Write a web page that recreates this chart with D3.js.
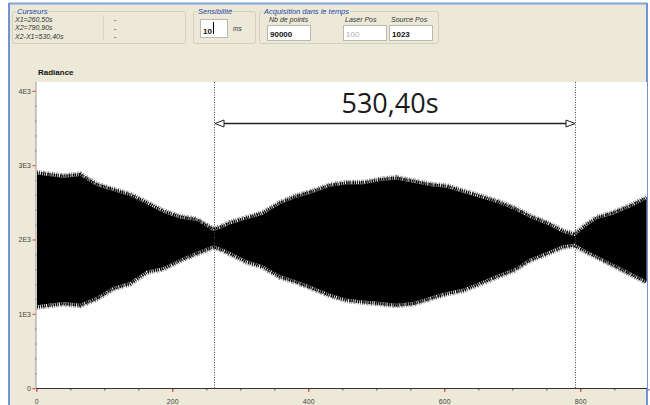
<!DOCTYPE html>
<html>
<head>
<meta charset="utf-8">
<script src="https://cdn.jsdelivr.net/npm/d3@7"></script>
<style>
    body { margin: 0; background: #ffffff; }
    svg { display: block; font-family: "Liberation Sans", "DejaVu Sans", sans-serif; }
</style>
</head>
<body>
<svg id="chart" width="650" height="405"></svg>
<script>
const timeSamples = [0, 39, 64, 88, 112, 137, 162, 186, 211, 235, 260, 274, 284, 309, 333, 358, 382, 407, 431, 456,
    480, 505, 529, 554, 578, 603, 627, 652, 676, 701, 725, 750, 774, 791, 809, 824, 848, 872, 897];
// Upper and lower envelope of the radiance signal (peak tips)
const upperEnvelope = [2942, 2898, 2920, 2785, 2718, 2650, 2539, 2427, 2350, 2314, 2179, 2225, 2269, 2337, 2404, 2539,
    2629, 2696, 2775, 2808, 2808, 2852, 2875, 2830, 2785, 2763, 2696, 2629, 2561, 2471, 2360, 2269, 2157, 2112, 2246,
    2337, 2404, 2494, 2606];
const lowerEnvelope = [1058, 1102, 1081, 1170, 1304, 1372, 1529, 1573, 1686, 1775, 1866, 1821, 1775, 1664, 1596, 1462,
    1394, 1304, 1215, 1148, 1125, 1102, 1081, 1102, 1170, 1237, 1282, 1372, 1462, 1552, 1686, 1775, 1866, 1888, 1798,
    1731, 1619, 1506, 1394];
// Cursors
const cursorValues = [260.5, 790.9];
const cursorLines = ["X1=260,50s", "X2=790,90s", "X2-X1=530,40s"];
const deltaLabel = "530,40s";
// Axis ticks
const xTicks = [0, 200, 400, 600, 800];
const yTicks = [0, 1000, 2000, 3000, 4000];
const yTickLabels = ["0", "1E3", "2E3", "3E3", "4E3"];
// Acquisition fields
const acquisitionLabels = ["Nb de points", "Laser Pos", "Source Pos"];
const acquisitionValues = ["90000", "100", "1023"];

const beige = "#ece9d8";
const groupTitle = "#2446a8";
// depth in px of the spiky fringe along the envelope
const fringe = 6;

const svg = d3.select("#chart");

const x = d3.scaleLinear().domain([0, 900]).range([36.7, 648.7]);
const y = d3.scaleLinear().domain([0, 4000]).range([388.5, 91.3]);

/**
 * Draws the application window background and frame
 */
function drawWindow() {
    svg.append("rect").attr("x", 9).attr("y", 4).attr("width", 638).attr("height", 405).attr("fill", beige);
    svg.append("line").attr("x1", 9).attr("x2", 647).attr("y1", 3.5).attr("y2", 3.5)
        .attr("stroke", "#7fa2dc").attr("stroke-width", 2);
    svg.append("line").attr("x1", 9).attr("x2", 9).attr("y1", 3).attr("y2", 405)
        .attr("stroke", "#6f95d6").attr("stroke-width", 2);
    svg.append("line").attr("x1", 647).attr("x2", 647).attr("y1", 3).attr("y2", 405)
        .attr("stroke", "#6f95d6").attr("stroke-width", 2);
}

/**
 * Draws a windows-like group box with a title
 * @param {number} x0
 * @param {number} y0
 * @param {number} w
 * @param {number} h
 * @param {string} title
 */
function groupBox(x0, y0, w, h, title) {
    let g = svg.append("g");
    g.append("rect").attr("x", x0 + 0.5).attr("y", y0 + 0.5).attr("width", w).attr("height", h)
        .attr("rx", 2).attr("fill", "none").attr("stroke", "#d0d0bf");
    let t = g.append("text").attr("x", x0 + 5).attr("y", y0 + 3)
        .attr("font-size", 7.5).attr("font-style", "italic").attr("fill", groupTitle).text(title);
    let bb = t.node().getBBox();
    g.insert("rect", "text").attr("x", bb.x - 1).attr("y", y0 - 2).attr("width", bb.width + 2).attr("height", 5)
        .attr("fill", beige);
    return g;
}

/**
 * Draws a sunken text field
 */
function textField(x0, y0, w, h, value, disabled) {
    svg.append("rect").attr("x", x0 + 0.5).attr("y", y0 + 0.5).attr("width", w).attr("height", h)
        .attr("fill", "#ffffff").attr("stroke", "#b9b9b0");
    svg.append("text").attr("x", x0 + 3).attr("y", y0 + h - 3.5)
        .attr("font-size", 8).attr("font-weight", disabled ? "normal" : "bold")
        .attr("fill", disabled ? "#b0b0b0" : "#111111").text(value);
}

/**
 * Draws the top control panel (cursors, sensitivity, acquisition)
 */
function drawPanel() {
    groupBox(12, 11, 173, 32, "Curseurs");
    svg.append("line").attr("x1", 103.5).attr("x2", 103.5).attr("y1", 15).attr("y2", 41).attr("stroke", "#d6d6c8");
    svg.selectAll("text.cursor")
        .data(cursorLines)
        .enter()
        .append("text")
        .attr("class", "cursor")
        .attr("x", 15)
        .attr("y", (d, i) => 21.5 + i * 8.6)
        .attr("font-size", 7)
        .attr("font-style", "italic")
        .attr("fill", "#333333")
        .text((d) => d);
    svg.selectAll("text.dash")
        .data(cursorLines)
        .enter()
        .append("text")
        .attr("class", "dash")
        .attr("x", 114)
        .attr("y", (d, i) => 22 + i * 8.6)
        .attr("font-size", 7)
        .attr("fill", "#333333")
        .text("-");

    groupBox(193, 11, 62, 32, "Sensibilité");
    textField(200, 19, 27, 18, "10", false);
    svg.append("line").attr("x1", 213.5).attr("x2", 213.5).attr("y1", 22).attr("y2", 34).attr("stroke", "#000");
    svg.append("text").attr("x", 233).attr("y", 31).attr("font-size", 6.5).attr("font-style", "italic")
        .attr("fill", "#333").text("ms");

    groupBox(259, 11, 179, 32, "Acquisition dans le temps");
    let fieldX = [267, 343, 389];
    acquisitionLabels.forEach((label, i) => {
        svg.append("text").attr("x", fieldX[i] + 2).attr("y", 21.5).attr("font-size", 7)
            .attr("font-style", "italic").attr("fill", "#333").text(label);
        textField(fieldX[i], 25, 43, 15, acquisitionValues[i], i === 1);
    });
}

/**
 * Draws plot area, axes and ticks
 */
function drawAxes() {
    svg.append("rect").attr("x", 36).attr("y", 82).attr("width", 611).attr("height", 306.5).attr("fill", "#ffffff");
    svg.append("text").attr("x", 38).attr("y", 75).attr("font-size", 8).attr("font-weight", "bold")
        .attr("fill", "#111").text("Radiance");

    // minor ticks
    svg.selectAll("rect.xminor")
        .data(d3.range(0, 901, 50))
        .enter()
        .append("rect")
        .attr("class", "xminor")
        .attr("x", (d) => x(d) - 0.5)
        .attr("y", 389)
        .attr("width", 1.2)
        .attr("height", 1.5)
        .attr("fill", (d) => (d % 200 === 0 ? "#e05050" : "#5060c0"));
    svg.selectAll("rect.yminor")
        .data(d3.range(0, 4001, 200))
        .enter()
        .append("rect")
        .attr("class", "yminor")
        .attr("x", (d) => (d % 1000 === 0 ? 32.5 : 35))
        .attr("y", (d) => y(d) - 0.5)
        .attr("width", (d) => (d % 1000 === 0 ? 3 : 1.2))
        .attr("height", 1.2)
        .attr("fill", (d) => (d % 1000 === 0 ? "#e05050" : "#5060c0"));
    svg.selectAll("rect.xmajor")
        .data(xTicks)
        .enter()
        .append("rect")
        .attr("x", (d) => x(d) - 0.5)
        .attr("y", 389)
        .attr("width", 1.2)
        .attr("height", 3)
        .attr("fill", "#e05050");

    svg.append("line").attr("x1", 36).attr("x2", 647).attr("y1", 388.5).attr("y2", 388.5)
        .attr("stroke", "#333").attr("stroke-width", 1);
    svg.append("line").attr("x1", 36).attr("x2", 36).attr("y1", 82).attr("y2", 389)
        .attr("stroke", "#9a9a9a").attr("stroke-width", 1);

    svg.selectAll("text.xlabel")
        .data(xTicks)
        .enter()
        .append("text")
        .attr("class", "xlabel")
        .attr("x", (d) => x(d))
        .attr("y", 404)
        .attr("text-anchor", "middle")
        .attr("font-size", 7)
        .attr("fill", "#444")
        .text((d) => d);
    svg.selectAll("text.ylabel")
        .data(yTicks)
        .enter()
        .append("text")
        .attr("class", "ylabel")
        .attr("x", 31)
        .attr("y", (d) => y(d) + 2.5)
        .attr("text-anchor", "end")
        .attr("font-size", 7)
        .attr("fill", "#444")
        .text((d, i) => yTickLabels[i]);
}

/**
 * Draws the radiance trace: solid black band between the envelopes, with a
 * fringe of thin strokes just inside the peak tips for the fast oscillation
 */
function drawSignal() {
    let band = timeSamples.map((t, i) => ({ t: t, hi: upperEnvelope[i], lo: lowerEnvelope[i] }));
    let core = d3
        .area()
        .x((d) => x(d.t))
        .y0((d) => y(d.lo) - fringe + 1.5)
        .y1((d) => y(d.hi) + fringe - 1.5);
    let upper = d3.line().x((d) => x(d.t)).y((d) => y(d.hi) + fringe / 2);
    let lower = d3.line().x((d) => x(d.t)).y((d) => y(d.lo) - fringe / 2);

    svg.append("defs").append("clipPath").attr("id", "plot-clip")
        .append("rect").attr("x", 37).attr("y", 82).attr("width", 610).attr("height", 306);
    let g = svg.append("g").attr("clip-path", "url(#plot-clip)");

    [upper, lower].forEach((edge) => {
        g.append("path")
            .datum(band)
            .attr("d", edge)
            .attr("fill", "none")
            .attr("stroke", "#7a7a7a")
            .attr("stroke-width", fringe)
            .attr("stroke-dasharray", "0.8,1.4,1.1,0.9,0.6,1.6,1.3,1");
        g.append("path")
            .datum(band)
            .attr("d", edge)
            .attr("fill", "none")
            .attr("stroke", "#000")
            .attr("stroke-width", fringe - 3)
            .attr("stroke-dasharray", "1.3,0.8,0.9,1.2,1.5,0.7");
    });
    g.append("path")
        .datum(band)
        .attr("d", core)
        .attr("fill", "#000000");
}

/**
 * Draws the two dotted cursors and the distance annotation
 */
function drawCursors() {
    svg.selectAll("line.cursor-line")
        .data(cursorValues)
        .enter()
        .append("line")
        .attr("class", "cursor-line")
        .attr("x1", (d) => Math.round(x(d)) + 0.5)
        .attr("x2", (d) => Math.round(x(d)) + 0.5)
        .attr("y1", 82)
        .attr("y2", 388)
        .attr("stroke", "#444")
        .attr("stroke-dasharray", "1,1.5");

    let x1 = Math.round(x(cursorValues[0])) + 1;
    let x2 = Math.round(x(cursorValues[1]));
    let ay = 123.5;
    svg.append("line").attr("x1", x1 + 8).attr("x2", x2 - 8).attr("y1", ay).attr("y2", ay)
        .attr("stroke", "#222").attr("stroke-width", 1.3);
    svg.append("path")
        .attr("d", d3.line()([[x1, ay], [x1 + 9, ay - 3.5], [x1 + 9, ay + 3.5], [x1, ay]]))
        .attr("fill", "#fff").attr("stroke", "#222").attr("stroke-width", 1);
    svg.append("path")
        .attr("d", d3.line()([[x2, ay], [x2 - 9, ay - 3.5], [x2 - 9, ay + 3.5], [x2, ay]]))
        .attr("fill", "#fff").attr("stroke", "#222").attr("stroke-width", 1);
    svg.append("text")
        .attr("x", (x1 + x2) / 2 - 5)
        .attr("y", 112.5)
        .attr("text-anchor", "middle")
        .attr("font-family", "'Open Sans', sans-serif")
        .attr("font-size", 27)
        .attr("fill", "#1a1a1a")
        .text(deltaLabel);
}

drawWindow();
drawPanel();
drawAxes();
drawSignal();
drawCursors();
</script>
</body>
</html>
